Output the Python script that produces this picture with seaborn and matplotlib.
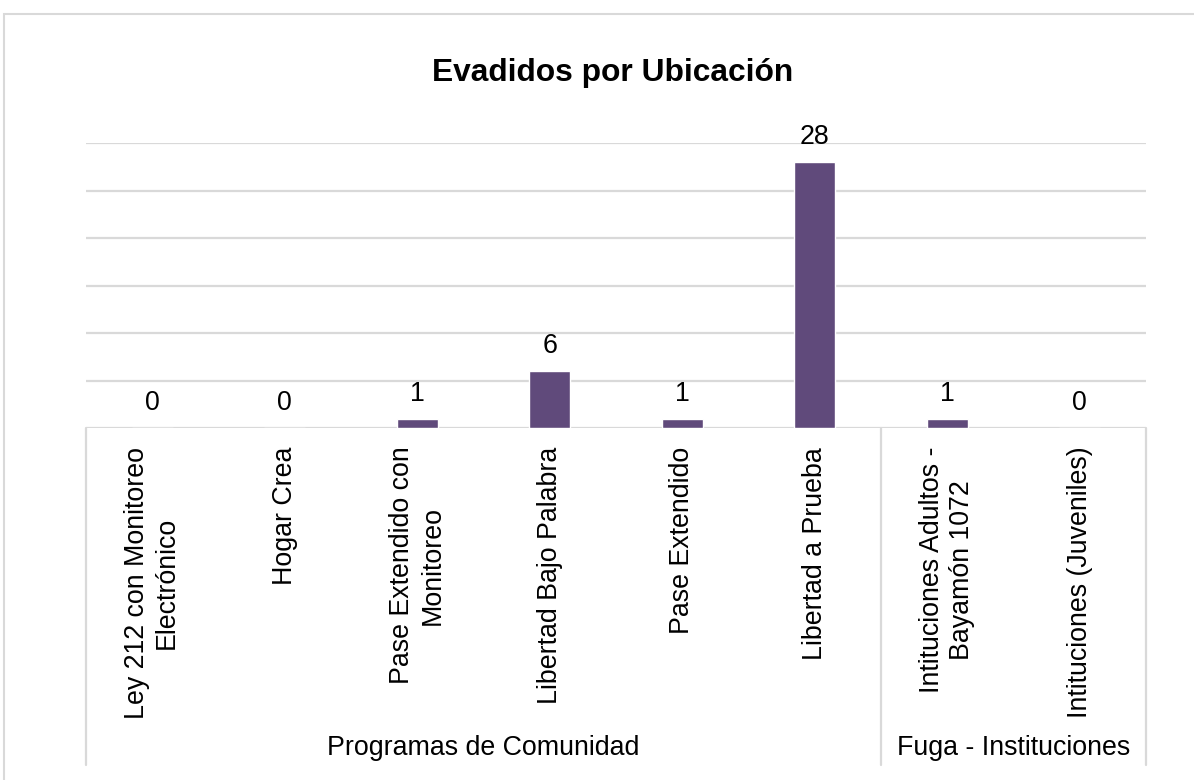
import matplotlib

matplotlib.use("Agg")
import matplotlib.pyplot as plt
import pandas as pd
import seaborn as sns
from matplotlib.patches import Rectangle

categories = [
    "Ley 212 con Monitoreo\nElectrónico",
    "Hogar Crea",
    "Pase Extendido con\nMonitoreo",
    "Libertad Bajo Palabra",
    "Pase Extendido",
    "Libertad a Prueba",
    "Intituciones Adultos -\nBayamón 1072",
    "Intituciones (Juveniles)",
]
values = [0, 0, 1, 6, 1, 28, 1, 0]
groups = ["Programas de Comunidad", "Fuga - Instituciones"]
group_sizes = [6, 2]

sns.set_theme(style="white")
plt.rcParams["font.family"] = ["Liberation Sans", "DejaVu Sans"]

W, H = 1194, 780
FS = 19.3
fig = plt.figure(figsize=(W / 100, H / 100), dpi=100)
fig.patch.set_facecolor("white")

# chart area border (runs off the right/bottom edge)
fig.patches.append(Rectangle((4 / W, -0.1), 1.2, (H - 14) / H + 0.1, transform=fig.transFigure,
                             fill=False, edgecolor="#D9D9D9", linewidth=1.5))

left, right, axis_y, top_y = 86, 1146, 428, 143
ax = fig.add_axes([left / W, 1 - axis_y / H, (right - left) / W, (axis_y - top_y) / H])

data = pd.DataFrame({"category": categories, "value": values})
sns.barplot(data, x="category", y="value", ax=ax, color="#604A7B", width=0.31, saturation=1)

ax.set_ylim(0, 30)
ax.set_yticks(range(0, 31, 5))
ax.yaxis.grid(True, color="#D9D9D9", linewidth=1.6)
ax.set_axisbelow(True)
ax.tick_params(axis="y", left=False, labelleft=False)
ax.tick_params(axis="x", bottom=False, pad=7.5, labelsize=FS, labelcolor="black")
for lbl in ax.get_xticklabels():
    lbl.set_rotation(90)
    lbl.set_va("top")
    lbl.set_ha("center")
    lbl.set_multialignment("center")
ax.set_xlim(-0.5, len(categories) - 0.5)
ax.set(xlabel="", ylabel="")
for s in ax.spines.values():
    s.set_visible(False)

ax.bar_label(ax.containers[0], labels=[str(v) for v in values], padding=8.5,
             fontsize=FS, color="black")

# multi-level axis separators and group labels
line_kw = dict(color="#D9D9D9", linewidth=1.6, transform=fig.transFigure)
bottom = 765
bounds = [0]
for n in group_sizes:
    bounds.append(bounds[-1] + n)
slot = (right - left) / len(categories)
for b in bounds:
    xp = left + b * slot
    fig.add_artist(plt.Line2D([xp / W, xp / W], [1 - axis_y / H, 1 - bottom / H], **line_kw))
for g, a, b in zip(groups, bounds[:-1], bounds[1:]):
    xc = left + (a + b) / 2 * slot
    fig.text(xc / W, 1 - 748 / H, g, ha="center", va="center", fontsize=FS, color="black")

fig.text(613 / W, 1 - 81 / H, "Evadidos por Ubicación", ha="center", va="baseline",
         fontsize=22.9, fontweight="bold", color="black")

fig.savefig("out.png", dpi=100)
